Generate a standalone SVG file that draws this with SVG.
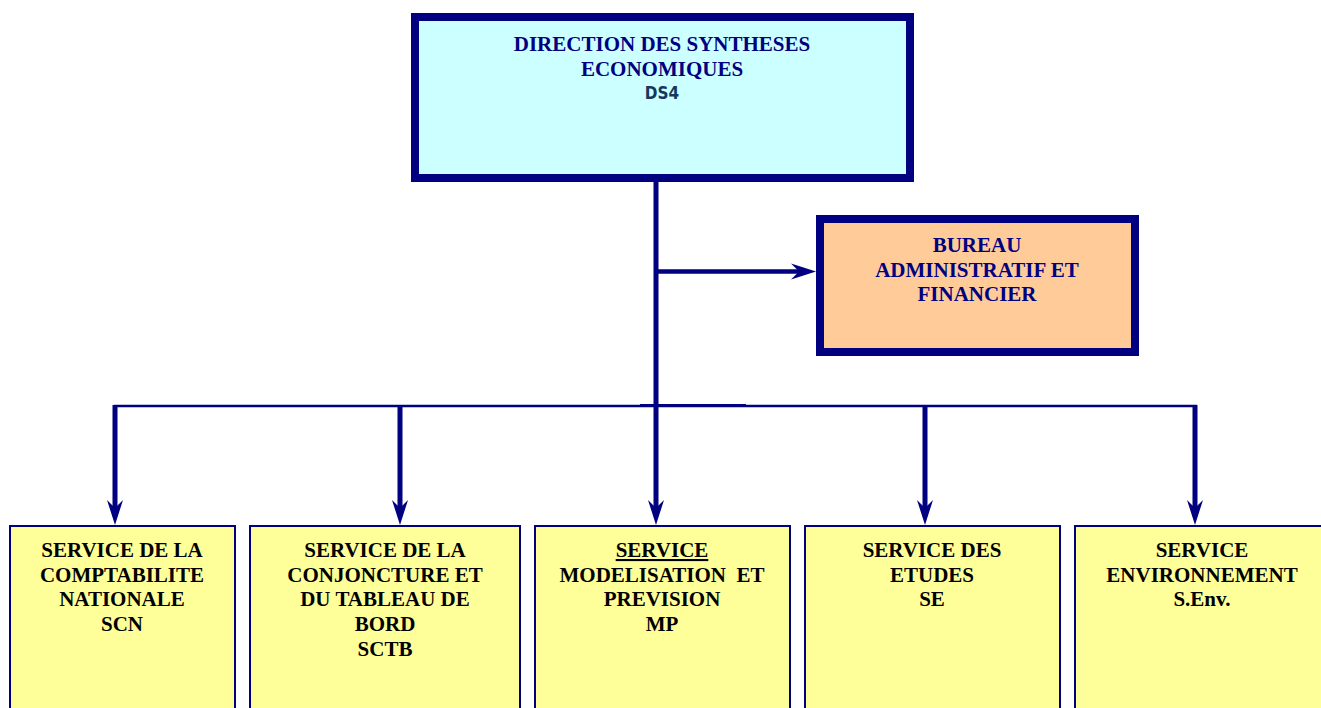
<svg xmlns="http://www.w3.org/2000/svg" width="1321" height="708" viewBox="0 0 1321 708">
<style>
.t{font-family:"Liberation Serif","Times New Roman",serif;font-weight:bold;font-size:21px;text-anchor:middle}
.nv{fill:#000080}
.bk{fill:#000000}
.conn{stroke:#000080;fill:none}
</style>
<defs>
<marker id="ah" viewBox="-26 -9 27 18" refX="-15" refY="0" markerWidth="27" markerHeight="18" markerUnits="userSpaceOnUse" orient="auto">
<path d="M0,0 L-25,-8 L-17,0 L-25,8 Z" fill="#000080"/>
</marker>
</defs>
<rect width="1321" height="708" fill="#ffffff"/>
<g id="connectors">
<line class="conn" x1="656" y1="180" x2="656" y2="510" stroke-width="5" marker-end="url(#ah)"/>
<line class="conn" x1="656" y1="271.5" x2="801" y2="271.5" stroke-width="4.5" marker-end="url(#ah)"/>
<line class="conn" x1="114" y1="406" x2="1197" y2="406" stroke-width="2.5"/>
<line class="conn" x1="640" y1="405.5" x2="746" y2="405.5" stroke-width="3"/>
<line class="conn" x1="115" y1="405" x2="115" y2="510" stroke-width="5" marker-end="url(#ah)"/>
<line class="conn" x1="400" y1="405" x2="400" y2="510" stroke-width="5" marker-end="url(#ah)"/>
<line class="conn" x1="925" y1="405" x2="925" y2="510" stroke-width="5" marker-end="url(#ah)"/>
<line class="conn" x1="1195" y1="405" x2="1195" y2="510" stroke-width="5" marker-end="url(#ah)"/>
</g>
<g id="dse">
<rect x="415" y="17" width="495" height="161" fill="#CCFFFF" stroke="#000080" stroke-width="8"/>
<text class="t nv" x="662" y="51">DIRECTION DES SYNTHESES</text>
<text class="t nv" x="662" y="76">ECONOMIQUES</text>
<text x="662" y="99" text-anchor="middle" font-family="'DejaVu Sans Condensed','DejaVu Sans',sans-serif" font-weight="bold" font-size="17" fill="#17375E">DS4</text>
</g>
<g id="baf">
<rect x="820" y="219" width="315" height="133" fill="#FFCC99" stroke="#000080" stroke-width="8"/>
<text class="t nv" x="977" y="252">BUREAU</text>
<text class="t nv" x="977" y="277">ADMINISTRATIF ET</text>
<text class="t nv" x="977" y="301">FINANCIER</text>
</g>
<g id="scn">
<rect x="10" y="526" width="225" height="200" fill="#FFFF99" stroke="#000080" stroke-width="2"/>
<text class="t bk" x="122" y="557">SERVICE DE LA</text>
<text class="t bk" x="122" y="582">COMPTABILITE</text>
<text class="t bk" x="122" y="606">NATIONALE</text>
<text class="t bk" x="122" y="631">SCN</text>
</g>
<g id="sctb">
<rect x="250" y="526" width="270" height="200" fill="#FFFF99" stroke="#000080" stroke-width="2"/>
<text class="t bk" x="385" y="557">SERVICE DE LA</text>
<text class="t bk" x="385" y="582">CONJONCTURE ET</text>
<text class="t bk" x="385" y="606">DU TABLEAU DE</text>
<text class="t bk" x="385" y="631">BORD</text>
<text class="t bk" x="385" y="656">SCTB</text>
</g>
<g id="mp">
<rect x="535" y="526" width="255" height="200" fill="#FFFF99" stroke="#000080" stroke-width="2"/>
<text class="t bk" x="662" y="557" text-decoration="underline">SERVICE</text>
<text class="t bk" x="662" y="582" xml:space="preserve">MODELISATION  ET</text>
<text class="t bk" x="662" y="606">PREVISION</text>
<text class="t bk" x="662" y="631">MP</text>
</g>
<g id="se">
<rect x="805" y="526" width="255" height="200" fill="#FFFF99" stroke="#000080" stroke-width="2"/>
<text class="t bk" x="932" y="557">SERVICE DES</text>
<text class="t bk" x="932" y="582">ETUDES</text>
<text class="t bk" x="932" y="606">SE</text>
</g>
<g id="senv">
<rect x="1075" y="526" width="270" height="200" fill="#FFFF99" stroke="#000080" stroke-width="2"/>
<text class="t bk" x="1202" y="557">SERVICE</text>
<text class="t bk" x="1202" y="582">ENVIRONNEMENT</text>
<text class="t bk" x="1202" y="606">S.Env.</text>
</g>
</svg>
